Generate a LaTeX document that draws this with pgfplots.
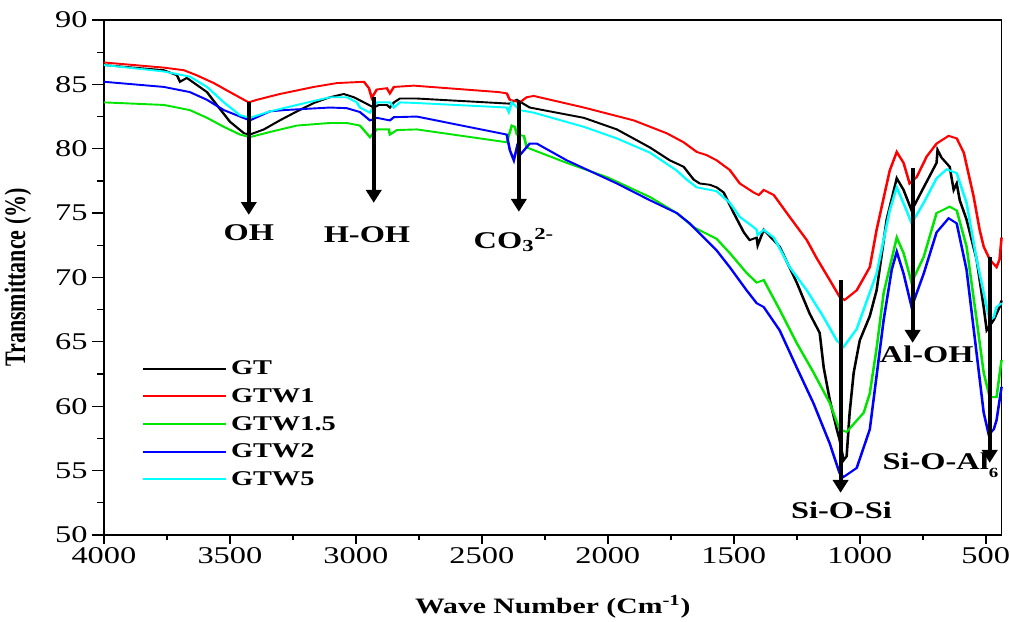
\documentclass[border=0pt]{standalone}
\usepackage{fontspec}
\setmainfont{Liberation Serif}
\usepackage{graphicx}
\usepackage{pgfplots}
\pgfplotsset{compat=1.18}
\usetikzlibrary{arrows.meta}

\definecolor{cgt}{rgb}{0,0,0}
\definecolor{cw1}{rgb}{1,0,0}
\definecolor{cw15}{rgb}{0,0.9,0}
\definecolor{cw2}{rgb}{0,0,1}
\definecolor{cw5}{rgb}{0,1,1}

\newcommand{\lbl}{\fontsize{24}{24}\selectfont\bfseries}

\begin{document}
\scalebox{1.35}[1]{%
\begin{tikzpicture}
  \begin{axis}[
    scale only axis,
    width=665pt, height=515pt,
    x dir=reverse,
    xmin=437, xmax=4000,
    ymin=50, ymax=90,
    xtick={500,1000,...,4000},
    ytick={50,55,...,90},
    minor x tick num=1,
    minor y tick num=1,
    xtick pos=bottom, ytick pos=left,
    tick align=outside,
    major tick length=9pt,
    minor tick length=5pt,
    every tick/.style={black, line width=1.2pt},
    axis line style={line width=1.2pt},
    /pgf/number format/1000 sep={},
    /pgf/number format/assume math mode=true,
    tick label style={font=\fontsize{24}{24}\selectfont},
    xticklabel style={inner xsep=0pt},
    yticklabel style={inner sep=3pt},
    xlabel={Wave Number (Cm\textsuperscript{-1})},
    ylabel={Transmittance (\%)},
    xlabel style={font=\fontsize{22}{22}\selectfont\bfseries},
    ylabel style={font=\fontsize{22}{22}\selectfont\bfseries},
    xlabel shift=25pt,
    ylabel shift=11pt,
    clip=false,
    legend cell align=left,
    legend style={at={(axis cs:3869,63.85)}, anchor=north west, draw=none, fill=none,
      font=\fontsize{21}{21}\selectfont\bfseries, row sep=8.3pt,
      nodes={inner xsep=2.5pt}},
    legend image code/.code={\draw[#1, line width=2pt] (0pt,0pt) -- (62pt,0pt);},
    every axis plot/.append style={line width=1.9pt},
  ]
  % GT
  \addplot[cgt] coordinates {
    (4000,86.5) (3762,86.1) (3710,85.7) (3698,85.2) (3671,85.5) (3631,84.95)
    (3591,84.4) (3552,83.4) (3500,82.1) (3444,81.2) (3421,81.1) (3365,81.5)
    (3302,82.2) (3234,82.9) (3167,83.55) (3103,84.0) (3048,84.25) (3008,84.0)
    (2968,83.6) (2929,83.2) (2909,83.4) (2877,83.4) (2865,83.2) (2849,83.6)
    (2825,83.9) (2758,83.9) (2389,83.5) (2373,83.7) (2361,83.8) (2310,83.2)
    (2095,82.4) (1964,81.5) (1833,80.1) (1754,79.1) (1699,78.6) (1659,77.6)
    (1635,77.3) (1595,77.2) (1568,77.0) (1540,76.6) (1500,75.0) (1460,73.5)
    (1437,72.9) (1409,73.1) (1405,72.5) (1381,73.7) (1318,72.4) (1250,69.6)
    (1199,67.2) (1159,65.7) (1143,63.0) (1119,60.5) (1091,58.2) (1080,57.4)
    (1064,55.8) (1052,56.1) (1040,59.5) (1024,62.6) (1000,65.1) (960,67.0)
    (933,69.0) (893,74.5) (853,77.7) (826,76.8) (794,75.2) (746,77.0)
    (695,78.9) (691,79.9) (675,79.3) (643,78.6) (627,76.8) (615,77.3)
    (603,76.0) (576,74.5) (536,71.4) (508,67.7) (496,65.9) (468,66.7)
    (445,67.7) (437,68.2)
  };
  \addlegendentry{GT}
  % GTW1
  \addplot[cw1] coordinates {
    (4000,86.7) (3762,86.3) (3683,86.1) (3631,85.7) (3564,85.1) (3500,84.4)
    (3444,83.8) (3425,83.6) (3393,83.8) (3302,84.25) (3167,84.8) (3075,85.1)
    (2968,85.2) (2948,84.7) (2937,83.95) (2917,84.6) (2877,84.7) (2865,84.3)
    (2849,84.8) (2770,84.9) (2433,84.4) (2401,84.3) (2389,83.8) (2349,83.6)
    (2322,84.0) (2294,84.1) (2095,83.2) (1897,82.2) (1766,81.2) (1699,80.5)
    (1647,79.75) (1607,79.5) (1568,79.1) (1516,78.35) (1476,77.3) (1421,76.6)
    (1401,76.4) (1381,76.8) (1341,76.4) (1278,74.7) (1210,72.9) (1171,71.5)
    (1119,69.8) (1080,68.5) (1060,68.25) (1012,69.0) (960,70.8) (933,73.7)
    (881,78.3) (853,79.75) (826,78.9) (802,77.3) (774,77.8) (734,79.4)
    (695,80.4) (647,81.0) (615,80.8) (587,79.7) (548,76.3) (524,73.7)
    (508,72.4) (484,71.4) (457,70.8) (445,71.4) (437,73.1)
  };
  \addlegendentry{GTW1}
  % GTW1.5
  \addplot[cw15] coordinates {
    (4000,83.6) (3762,83.4) (3659,83.0) (3591,82.4) (3524,81.7) (3460,81.1)
    (3421,80.9) (3341,81.3) (3234,81.8) (3103,82.0) (3036,82.0) (2984,81.8)
    (2944,80.9) (2917,81.5) (2869,81.5) (2865,81.1) (2837,81.45) (2758,81.5)
    (2401,80.5) (2381,81.8) (2369,81.7) (2361,81.1) (2333,81.0) (2322,80.1)
    (2163,78.9) (2004,77.8) (1833,76.25) (1726,75.0) (1659,73.9) (1568,73.0)
    (1516,71.9) (1449,70.35) (1409,69.6) (1381,69.8) (1318,67.5) (1250,64.9)
    (1183,62.6) (1119,60.25) (1080,58.2) (1052,58.0) (984,59.5) (960,61.0)
    (933,64.5) (905,68.8) (853,73.1) (826,71.9) (794,69.6) (746,71.6)
    (695,75.0) (643,75.5) (615,75.2) (576,72.4) (536,66.7) (508,62.6)
    (484,60.7) (457,60.7) (437,63.6)
  };
  \addlegendentry{GTW1.5}
  % GTW2
  \addplot[cw2] coordinates {
    (4000,85.2) (3762,84.8) (3659,84.4) (3591,83.8) (3524,83.0) (3460,82.5)
    (3421,82.2) (3341,82.9) (3286,83.0) (3103,83.2) (3036,83.15) (2984,82.85)
    (2944,82.2) (2917,82.4) (2865,82.2) (2849,82.45) (2758,82.5) (2401,81.1)
    (2389,79.9) (2373,79.1) (2361,80.1) (2349,79.5) (2310,80.4) (2282,80.4)
    (2163,79.1) (1964,77.3) (1833,76.0) (1726,75.0) (1675,74.2) (1619,73.1)
    (1568,72.1) (1516,70.8) (1449,69.0) (1409,68.0) (1381,67.7) (1318,65.9)
    (1250,63.0) (1183,60.2) (1119,57.1) (1080,54.8) (1064,54.5) (1012,55.2)
    (960,58.2) (905,66.7) (873,70.6) (853,72.0) (826,70.3) (794,67.7)
    (746,70.3) (695,73.5) (647,74.6) (615,74.2) (576,70.6) (536,64.1)
    (508,59.5) (488,57.8) (468,58.2) (457,58.9) (437,61.5)
  };
  \addlegendentry{GTW2}
  % GTW5
  \addplot[cw5] coordinates {
    (4000,86.5) (3762,86.0) (3659,85.6) (3591,84.8) (3524,83.6) (3460,82.6)
    (3421,82.4) (3341,82.9) (3234,83.4) (3103,84.0) (3036,84.0) (2996,83.6)
    (2984,83.2) (2944,82.8) (2917,83.6) (2865,83.6) (2849,83.2) (2825,83.6)
    (2758,83.55) (2401,83.2) (2393,82.85) (2381,83.6) (2349,83.0) (2294,82.8)
    (2095,81.7) (1964,80.8) (1833,79.7) (1726,78.3) (1687,77.6) (1647,77.0)
    (1568,76.7) (1516,75.8) (1476,74.7) (1421,73.9) (1409,73.7) (1405,73.3)
    (1381,73.7) (1341,73.1) (1278,70.8) (1210,69.0) (1143,66.9) (1091,65.1)
    (1064,64.6) (1012,66.0) (933,70.3) (881,75.2) (853,77.0) (814,75.2)
    (794,74.2) (746,75.8) (695,77.7) (655,78.4) (615,78.1) (576,75.8)
    (536,71.4) (508,68.8) (484,66.7) (468,66.9) (457,67.7) (437,68.0)
  };
  \addlegendentry{GTW5}

  % band arrows
  \begin{scope}[line width=3pt, -{Triangle[length=13pt,width=11pt]}]
    \draw (axis cs:3425,83.63) -- (axis cs:3425,74.85);
    \draw (axis cs:2929,84.02) -- (axis cs:2929,75.79);
    \draw (axis cs:2353,83.71) -- (axis cs:2353,75.09);
    \draw (axis cs:1076,69.81) -- (axis cs:1076,53.26);
    \draw (axis cs:790,78.5) -- (axis cs:790,64.91);
    \draw (axis cs:484,71.59) -- (axis cs:484,55.59);
  \end{scope}
  \node[font=\lbl] at (axis cs:3425,73.5) {OH};
  \node[font=\lbl] at (axis cs:2956,73.3) {H-OH};
  \node[font=\lbl] at (axis cs:2373,72.9) {CO\textsubscript{3}\textsuperscript{2-}};
  \node[font=\lbl] at (axis cs:1072,51.9) {Si-O-Si};
  \node[font=\lbl] at (axis cs:734,64.0) {Al-OH};
  \node[font=\lbl, anchor=west, inner sep=0pt] at (axis cs:910,55.4)
    {Si-O-Al\raisebox{-0.35em}{\fontsize{14}{14}\selectfont 6}};
  % a little room above the frame, as in the original
  \path (rel axis cs:0.5,1) -- ([yshift=20pt]rel axis cs:0.5,1);
  \end{axis}
\end{tikzpicture}}
\end{document}
